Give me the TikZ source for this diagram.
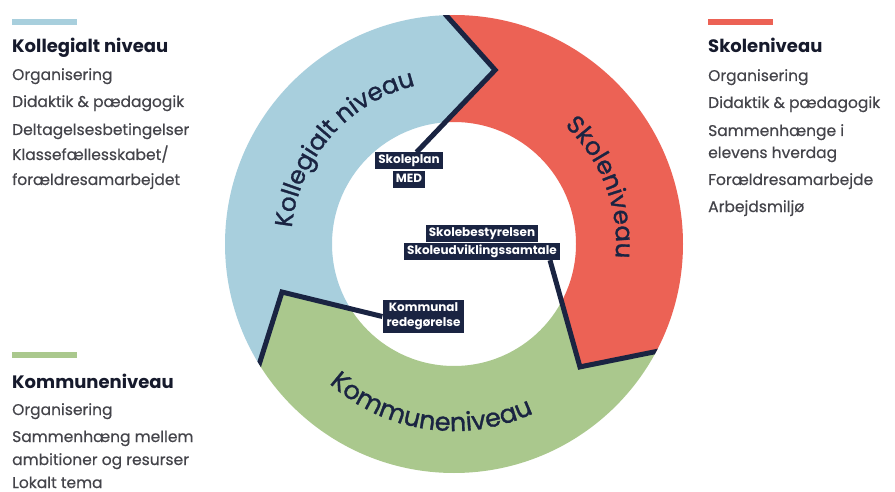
\documentclass[tikz,border=0pt]{standalone}
\usepackage{fontspec}
\setmainfont{Poppins}
\newfontfamily\ringfont{Poppins}[FakeBold=1.2]
\newfontfamily\bodyfont{Poppins}[FakeBold=0.4]
\usetikzlibrary{calc,decorations.text}
\pgfdeclarelayer{bg}\pgfdeclarelayer{mid}
\pgfsetlayers{bg,mid,main}
\definecolor{kblue}{RGB}{168,207,221}
\definecolor{kred}{RGB}{236,98,85}
\definecolor{kgreen}{RGB}{170,200,141}
\definecolor{navy}{RGB}{26,36,66}
\definecolor{titlecol}{RGB}{22,26,44}
\definecolor{bodygray}{RGB}{68,68,74}
\begin{document}
\begin{tikzpicture}[x=1pt,y=1pt,
  legtitle/.style={anchor=base west, inner sep=0pt, font=\bfseries\fontsize{18}{20}\selectfont, text=titlecol},
  legitem/.style={anchor=base west, inner sep=0pt, font=\bodyfont\fontsize{15.5}{18}\selectfont, text=bodygray},
  tagbase/.style={fill=navy, text=white, inner xsep=3pt, inner ysep=3pt},
  tag/.style={tagbase, font=\bfseries\fontsize{12}{14}\selectfont, text height=8.5pt, text depth=2.5pt},
  boundary/.style={draw=navy, line width=5pt, line join=miter},
  ringtext/.style={decorate, decoration={text along path, text color=navy, text align=center, text={|\ringfont\fontsize{24.5}{28}\selectfont|#1}}}
]
\begin{pgfonlayer}{bg}
\fill[white] (0,0) rectangle (895,-492);
\end{pgfonlayer}
\useasboundingbox (0,0) rectangle (895,-492);
\coordinate (C) at (454,-244);

% inner tags
\node[tag] (sp) at (409,-161) {Skoleplan};
\node[tag] (med) at (409,-179.5) {MED};
\node[tag] (sb) at (482,-233.5) {Skolebestyrelsen};
\node[tag] (su) at (482,-251.5) {Skoleudviklingssamtale};
\node[tagbase, align=center, inner ysep=3pt, inner xsep=4pt, font=\bfseries\fontsize{12}{15}\selectfont] (kr) at (423.5,-316.5) {Kommunal\\redegørelse};

% boundary points
\coordinate (o1) at ($(C)+(92:229)$);
\coordinate (v1) at ($(C)+(76.7:178.8)$);
\coordinate (l1) at ($(sp.north)+(7.5,0)$);
\coordinate (o2) at ($(C)+(332:229)$);
\coordinate (v2) at ($(C)+(-44.3:176)$);
\coordinate (l2) at ($(su.south east)+(-10,0)$);
\coordinate (o3) at ($(C)+(211.7:229)$);
\coordinate (v3) at ($(C)+(195.6:178.6)$);
\coordinate (l3) at (kr.west);

\begin{pgfonlayer}{bg}
  \begin{scope}
    \clip (C) -- (l1) -- (v1) -- (o1) -- ($(C)+(92:300)$) -- ($(C)+(152:400)$) -- ($(C)+(212:300)$) -- (o3) -- (v3) -- (l3) -- cycle;
    \fill[kblue, even odd rule] (C) circle[radius=229] (C) circle[radius=122];
  \end{scope}
  \begin{scope}
    \clip (C) -- (l2) -- (v2) -- (o2) -- ($(C)+(-28:300)$) -- ($(C)+(32:400)$) -- ($(C)+(92:300)$) -- (o1) -- (v1) -- (l1) -- cycle;
    \fill[kred, even odd rule] (C) circle[radius=229] (C) circle[radius=122];
  \end{scope}
  \begin{scope}
    \clip (C) -- (l3) -- (v3) -- (o3) -- ($(C)+(212:300)$) -- ($(C)+(272:400)$) -- ($(C)+(332:300)$) -- (o2) -- (v2) -- (l2) -- cycle;
    \fill[kgreen, even odd rule] (C) circle[radius=229] (C) circle[radius=122];
  \end{scope}
\end{pgfonlayer}

\begin{pgfonlayer}{mid}
  \begin{scope}
    \clip (C) circle[radius=229];
    \draw[boundary] ($(v1)!1.15!(o1)$) -- (v1) -- (l1);
    \draw[boundary] ($(v2)!1.15!(o2)$) -- (v2) -- (l2);
    \draw[boundary] ($(v3)!1.15!(o3)$) -- (v3) -- (l3);
  \end{scope}
\end{pgfonlayer}

% ring texts
\path[ringtext={Kollegialt niveau}] ($(C)+(200:163)$) arc[start angle=200, end angle=78, radius=163];
\path[ringtext={Skoleniveau}] ($(C)+(81:162)$) arc[start angle=81, end angle=-39, radius=162];
\path[decorate, decoration={text along path, text color=navy, text align=center, text={|\ringfont\fontsize{25.5}{28}\selectfont|Kommuneniveau}}] ($(C)+(201.7:187)$) arc[start angle=201.7, end angle=321.7, radius=187];

% left legend
\fill[kblue] (12,-19) rectangle (77,-25);
\node[legtitle] (kt) at (12,-53) {Kollegialt niveau};
\node[legitem] (k1) at (12,-80) {Organisering};
\node[legitem] (k2) at (12,-107) {Didaktik \& pædagogik};
\node[legitem] (k3) at (12,-135) {Deltagelsesbetingelser};
\node[legitem] (k4) at (12,-160) {Klassefællesskabet/};
\node[legitem] (k5) at (12,-185) {forældresamarbejdet};

% right legend
\fill[kred] (708,-19) rectangle (773,-25);
\node[legtitle] (st) at (708,-53) {Skoleniveau};
\node[legitem] (s1) at (708,-81) {Organisering};
\node[legitem] (s2) at (708,-108) {Didaktik \& pædagogik};
\node[legitem] (s3) at (708,-136) {Sammenhænge i};
\node[legitem] (s4) at (708,-158) {elevens hverdag};
\node[legitem] (s5) at (708,-185) {Forældresamarbejde};
\node[legitem] (s6) at (708,-212) {Arbejdsmiljø};

% bottom-left legend
\fill[kgreen] (12,-352) rectangle (77,-358);
\node[legtitle] (mt) at (12,-388) {Kommuneniveau};
\node[legitem] (m1) at (12,-415) {Organisering};
\node[legitem] (m2) at (12,-442) {Sammenhæng mellem};
\node[legitem] (m3) at (12,-465) {ambitioner og resurser};
\node[legitem] (m4) at (12,-488) {Lokalt tema};
\end{tikzpicture}
\end{document}
